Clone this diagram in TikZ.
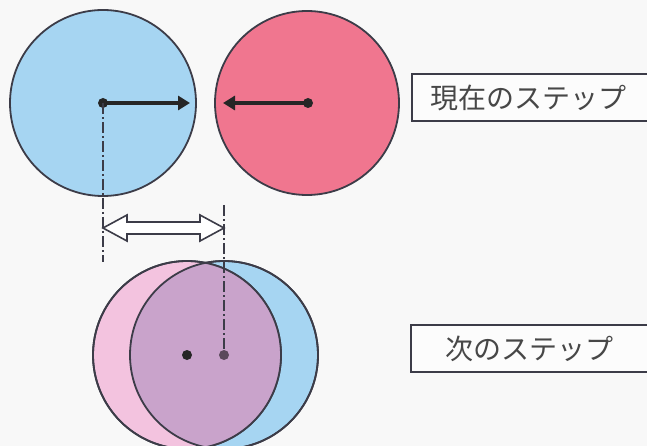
\documentclass[tikz,border=0pt]{standalone}
\usepackage{fontspec}
\newfontfamily\jpfont{Noto Sans CJK JP}
\usetikzlibrary{arrows.meta}
\definecolor{bgc}{HTML}{F8F8F8}
\definecolor{bluec}{HTML}{A6D5F2}
\definecolor{redc}{HTML}{F0768F}
\definecolor{pinkc}{HTML}{F3C3DF}
\definecolor{purplec}{HTML}{C9A3CB}
\definecolor{edgec}{HTML}{3C3C48}
\tikzset{
  ball/.style={draw=edgec, line width=1.8pt},
  cdot/.style={circle, fill=black!85, inner sep=0pt, minimum size=10pt},
  push/.style={line width=3.4pt, draw=black!85, -{Triangle[length=12pt,width=14pt]}},
  axis/.style={draw=edgec, line width=1.5pt, dash pattern=on 11pt off 3pt on 2pt off 3pt},
  axisbold/.style={draw=edgec, line width=2.6pt, dash pattern=on 11pt off 3pt on 2pt off 3pt},
  labelbox/.style={draw=edgec, line width=1.7pt, fill=white!60!bgc, minimum height=47pt, inner sep=0pt},
  lbl/.style={font=\jpfont\fontsize{28}{30}\selectfont, text=black!72}
}
\begin{document}
\begin{tikzpicture}[x=1pt,y=-1pt]
\useasboundingbox[fill=bgc] (0,0) rectangle (647,446);
% current step
\draw[ball, fill=bluec] (103,103) circle (93);
\draw[ball, fill=redc] (307,103) circle (92);
\node[cdot] (bc) at (103,103) {};
\node[cdot] (rc) at (308,103) {};
\coordinate (bt) at (190,103);
\coordinate (rt) at (223,103);
\draw[push] (bc.center) -- (bt);
\draw[push] (rc.center) -- (rt);
% next step
\draw[ball, fill=bluec] (224,355) circle (94);
\draw[ball, fill=pinkc] (187,355) circle (94);
\begin{scope}
  \clip (224,355) circle (94);
  \fill[purplec] (187,355) circle (94);
\end{scope}
\draw[ball] (224,355) circle (94);
\draw[ball] (187,355) circle (94);
\node[cdot, fill=black!55!purplec] (nb2) at (224,355) {};
\node[cdot] (np) at (187,355) {};
% axes
\coordinate (la) at (103,262);
\coordinate (rb) at (224,205);
\draw[axis] (bc.center) -- (la);
\draw[axisbold] (rb) -- (nb2.north);
% hollow double arrow
\draw[draw=edgec, line width=1.6pt, fill=white, line join=miter]
  (103,228) -- (127,215) -- (127,222) -- (200,222) -- (200,215) -- (224,228)
  -- (200,241) -- (200,234) -- (127,234) -- (127,241) -- cycle;
% labels
\draw[labelbox] (412,74) rectangle (660,121);
\node[lbl, anchor=west] (t1) at (427,98) {現在のステップ};
\draw[labelbox] (411,325) rectangle (660,372);
\node[lbl, anchor=west] (t2) at (442,349) {次のステップ};
\end{tikzpicture}
\end{document}
